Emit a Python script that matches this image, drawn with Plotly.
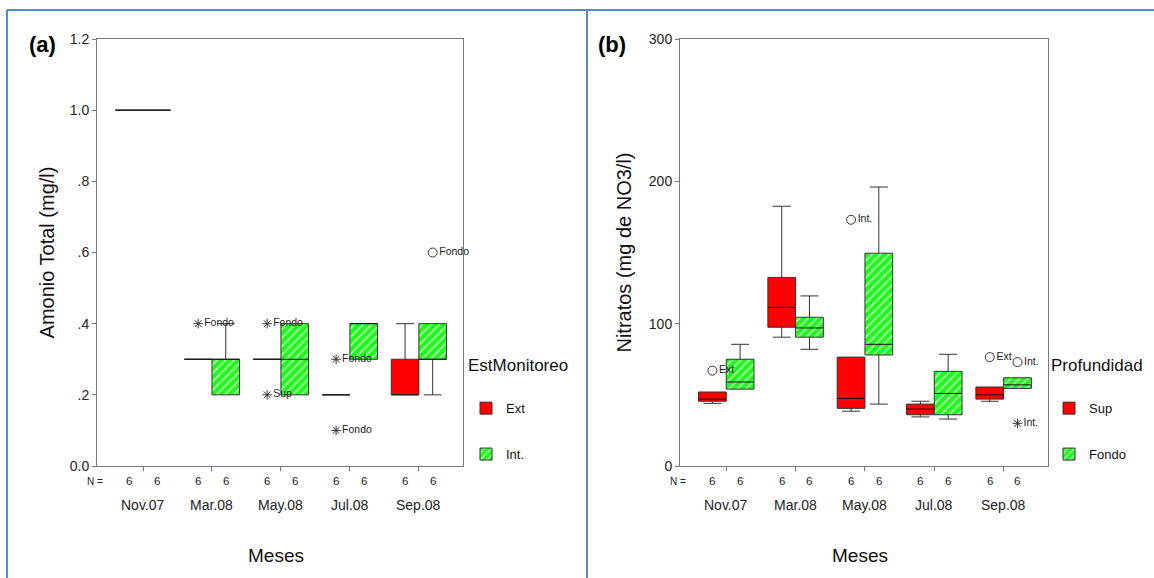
import plotly.graph_objects as go

# ---------------- data ----------------
meses = ["Nov.07", "Mar.08", "May.08", "Jul.08", "Sep.08"]

# (a) Amonio Total (mg/l) by EstMonitoreo
amo_ext_lo  = [1.0, 0.3, 0.3, 0.2, 0.2]
amo_ext_q1  = [1.0, 0.3, 0.3, 0.2, 0.2]
amo_ext_med = [1.0, 0.3, 0.3, 0.2, 0.2]
amo_ext_q3  = [1.0, 0.3, 0.3, 0.2, 0.3]
amo_ext_hi  = [1.0, 0.3, 0.3, 0.2, 0.4]
amo_int_lo  = [1.0, 0.2, 0.2, 0.3, 0.2]
amo_int_q1  = [1.0, 0.2, 0.2, 0.3, 0.3]
amo_int_med = [1.0, 0.3, 0.3, 0.4, 0.3]
amo_int_q3  = [1.0, 0.3, 0.4, 0.4, 0.4]
amo_int_hi  = [1.0, 0.4, 0.4, 0.4, 0.4]
amo_n_ext = [6, 6, 6, 6, 6]
amo_n_int = [6, 6, 6, 6, 6]
# outliers: (month index, group, value, label, kind)
amo_out_idx   = [1, 2, 2, 3, 3, 4]
amo_out_grp   = ["Ext", "Ext", "Ext", "Ext", "Ext", "Int."]
amo_out_val   = [0.4, 0.4, 0.2, 0.3, 0.1, 0.6]
amo_out_lab   = ["Fondo", "Fondo", "Sup", "Fondo", "Fondo", "Fondo"]
amo_out_kind  = ["extreme", "extreme", "extreme", "extreme", "extreme", "outlier"]

# (b) Nitratos (mg de NO3/l) by Profundidad
nit_sup_lo  = [44, 90.5, 38.5, 34.5, 45.5]
nit_sup_q1  = [45.5, 97.5, 40.5, 36, 47]
nit_sup_med = [47, 111.5, 47.5, 40, 50]
nit_sup_q3  = [52, 132.5, 76.5, 43.5, 55.5]
nit_sup_hi  = [52, 182.5, 76.5, 45.5, 55.5]
nit_fon_lo  = [54, 82, 43.5, 33, 54.5]
nit_fon_q1  = [54, 90.5, 78, 36, 54.5]
nit_fon_med = [59, 97, 85.5, 51, 57]
nit_fon_q3  = [75, 104.5, 149.5, 66.5, 62]
nit_fon_hi  = [85.5, 119.5, 196, 78.5, 62]
nit_n_sup = [6, 6, 6, 6, 6]
nit_n_fon = [6, 6, 6, 6, 6]
nit_out_idx  = [0, 2, 4, 4, 4]
nit_out_grp  = ["Sup", "Sup", "Sup", "Fondo", "Fondo"]
nit_out_val  = [67, 173, 76.5, 73, 30]
nit_out_lab  = ["Ext", "Int.", "Ext", "Int.", "Int."]
nit_out_kind = ["outlier", "outlier", "outlier", "outlier", "extreme"]

# ---------------- style ----------------
FONT = "Arial, Liberation Sans, sans-serif"
RED = "#ff0000"
GREEN_BG = "#22f522"
GREEN_FG = "#a8ffa0"
LINE = "#333333"
AXIS = "#777777"
W = 1154
H = 578
HALF = 0.2   # half box width (category units)
CAP = 0.13   # half whisker-cap width

fig = go.Figure()


def add_panel(xa, ya, legend, groups, out_idx, out_grp, out_val, out_lab, out_kind):
    offsets = {}
    for gi, g in enumerate(groups):
        name, lo, q1, med, q3, hi, n, off, color, patterned = g
        offsets[name] = off
        xs = [i + off for i in range(len(meses))]
        marker = dict(color=color, line=dict(color=LINE, width=1))
        if patterned:
            marker["pattern"] = dict(shape="/", bgcolor=GREEN_BG, fgcolor=GREEN_FG,
                                     size=6, solidity=0.3, fillmode="replace")
        fig.add_trace(go.Bar(
            x=xs, y=[b - a for a, b in zip(q1, q3)], base=q1, width=2 * HALF,
            marker=marker, name=name, xaxis=xa, yaxis=ya, legend=legend,
            legendgroup=legend + name, hoverinfo="skip"))
        # whiskers
        wx, wy = [], []
        for x, a, b, l, h in zip(xs, q1, q3, lo, hi):
            if h > b:
                wx += [x, x, None, x - CAP, x + CAP, None]
                wy += [b, h, None, h, h, None]
            if l < a:
                wx += [x, x, None, x - CAP, x + CAP, None]
                wy += [a, l, None, l, l, None]
        if wx:
            fig.add_trace(go.Scatter(x=wx, y=wy, mode="lines", line=dict(color=LINE, width=1),
                                     xaxis=xa, yaxis=ya, showlegend=False, hoverinfo="skip"))
        # medians
        mx, my = [], []
        for x, m in zip(xs, med):
            mx += [x - HALF, x + HALF, None]
            my += [m, m, None]
        fig.add_trace(go.Scatter(x=mx, y=my, mode="lines", line=dict(color="#111111", width=1),
                                 xaxis=xa, yaxis=ya, showlegend=False, hoverinfo="skip"))
    # outliers
    for kind, sym, size in (("outlier", "circle-open", 9), ("extreme", "asterisk-open", 8)):
        ox = [i + offsets[g] for i, g, k in zip(out_idx, out_grp, out_kind) if k == kind]
        oy = [v for v, k in zip(out_val, out_kind) if k == kind]
        ot = [t for t, k in zip(out_lab, out_kind) if k == kind]
        fig.add_trace(go.Scatter(
            x=ox, y=oy, text=ot, mode="markers+text", textposition="middle right",
            textfont=dict(family=FONT, size=10.5, color="#222222"),
            marker=dict(symbol=sym, size=size, color="#333333", line=dict(width=1, color="#333333")),
            xaxis=xa, yaxis=ya, showlegend=False, hoverinfo="skip", cliponaxis=False))


add_panel("x", "y", "legend", [
    ("Ext", amo_ext_lo, amo_ext_q1, amo_ext_med, amo_ext_q3, amo_ext_hi, amo_n_ext, -HALF, RED, False),
    ("Int.", amo_int_lo, amo_int_q1, amo_int_med, amo_int_q3, amo_int_hi, amo_n_int, HALF, GREEN_BG, True),
], amo_out_idx, amo_out_grp, amo_out_val, amo_out_lab, amo_out_kind)

add_panel("x2", "y2", "legend2", [
    ("Sup", nit_sup_lo, nit_sup_q1, nit_sup_med, nit_sup_q3, nit_sup_hi, nit_n_sup, -HALF, RED, False),
    ("Fondo", nit_fon_lo, nit_fon_q1, nit_fon_med, nit_fon_q3, nit_fon_hi, nit_n_fon, HALF, GREEN_BG, True),
], nit_out_idx, nit_out_grp, nit_out_val, nit_out_lab, nit_out_kind)

# ---------------- layout ----------------
ydom = [(H - 466) / H, (H - 39) / H]
xdom1 = [97 / W, 463 / W]
xdom2 = [680 / W, 1048 / W]

common_x = dict(range=[-0.667, 4.64], tickvals=list(range(len(meses))), showticklabels=False,
                ticks="outside", ticklen=4, tickcolor=AXIS, showline=True, linecolor=AXIS,
                linewidth=1, mirror=True, showgrid=False, zeroline=False, fixedrange=True,
                automargin=False)
common_y = dict(ticks="outside", ticklen=4, tickcolor=AXIS, showline=True, linecolor=AXIS,
                linewidth=1, mirror=True, showgrid=False, zeroline=False, automargin=False,
                fixedrange=True,
                tickfont=dict(family=FONT, size=14, color="#222222"),
                title_font=dict(family=FONT, size=20, color="#111111"))

amo_ticks = [0, 0.2, 0.4, 0.6, 0.8, 1.0, 1.2]
amo_ticktext = ["0.0", ".2", ".4", ".6", ".8", "1.0", "1.2"]
nit_ticks = [0, 100, 200, 300]


def ann(x, y, text, size, xref="paper", color="#222222"):
    return dict(x=x, y=y, xref=xref, yref="paper", text=text, showarrow=False,
                xanchor="center", yanchor="middle",
                font=dict(family=FONT, size=size, color=color))


annotations = []
for xref, grp_n, dom in (("x", (amo_n_ext, amo_n_int), xdom1), ("x2", (nit_n_sup, nit_n_fon), xdom2)):
    for i, m in enumerate(meses):
        annotations.append(ann(i, (H - 505) / H, m, 14, xref))
        for n, off in zip(grp_n, (-HALF, HALF)):
            annotations.append(ann(i + off, (H - 481) / H, str(n[i]), 11.5, xref))
    annotations.append(ann(dom[0] - 2 / W, (H - 481) / H, "N =", 10))
    annotations.append(ann((dom[0] + dom[1]) / 2 - 4 / W, (H - 555) / H, "Meses", 19, color="#111111"))
annotations.append(ann(42 / W, (H - 45) / H, "<b>(a)</b>", 22, color="#000000"))
annotations.append(ann(612 / W, (H - 45) / H, "<b>(b)</b>", 22, color="#000000"))

BLUE = "#5a88cc"
shapes = [
    dict(type="line", xref="paper", yref="paper", x0=7 / W, x1=1, y0=(H - 10) / H, y1=(H - 10) / H,
         line=dict(color=BLUE, width=2)),
    dict(type="line", xref="paper", yref="paper", x0=7 / W, x1=7 / W, y0=0, y1=(H - 10) / H,
         line=dict(color=BLUE, width=2)),
    dict(type="line", xref="paper", yref="paper", x0=587 / W, x1=587 / W, y0=0, y1=(H - 10) / H,
         line=dict(color=BLUE, width=2)),
]

legend_common = dict(xanchor="left", yanchor="top", bgcolor="rgba(0,0,0,0)", tracegroupgap=26,
                     font=dict(family=FONT, size=13, color="#111111"), traceorder="grouped")

fig.update_layout(
    width=W, height=H, margin=dict(l=0, r=0, t=0, b=0, autoexpand=False),
    paper_bgcolor="white", plot_bgcolor="white",
    barmode="overlay", showlegend=True,
    xaxis=dict(domain=xdom1, anchor="y", **common_x),
    xaxis2=dict(domain=xdom2, anchor="y2", **common_x),
    yaxis=dict(domain=ydom, anchor="x", range=[0, 1.2], tickvals=amo_ticks, ticktext=amo_ticktext,
               title=dict(text="Amonio Total (mg/l)", standoff=9), **common_y),
    yaxis2=dict(domain=ydom, anchor="x2", range=[0, 300], tickvals=nit_ticks,
                title=dict(text="Nitratos (mg de NO3/l)", standoff=11), **common_y),
    legend=dict(x=466 / W, y=(H - 349) / H,
                title=dict(text="EstMonitoreo<br> ", font=dict(family=FONT, size=17, color="#111111")),
                **legend_common),
    legend2=dict(x=1049 / W, y=(H - 349) / H,
                 title=dict(text="Profundidad<br> ", font=dict(family=FONT, size=17, color="#111111")),
                 **legend_common),
    annotations=annotations, shapes=shapes,
    font=dict(family=FONT),
)

fig.write_html(
    "out.html",
    config={"displayModeBar": False, "staticPlot": True},
    post_script="document.body.style.margin='0px';document.body.style.padding='0px';"
                "document.documentElement.style.overflow='hidden';document.body.style.overflow='hidden';",
)
